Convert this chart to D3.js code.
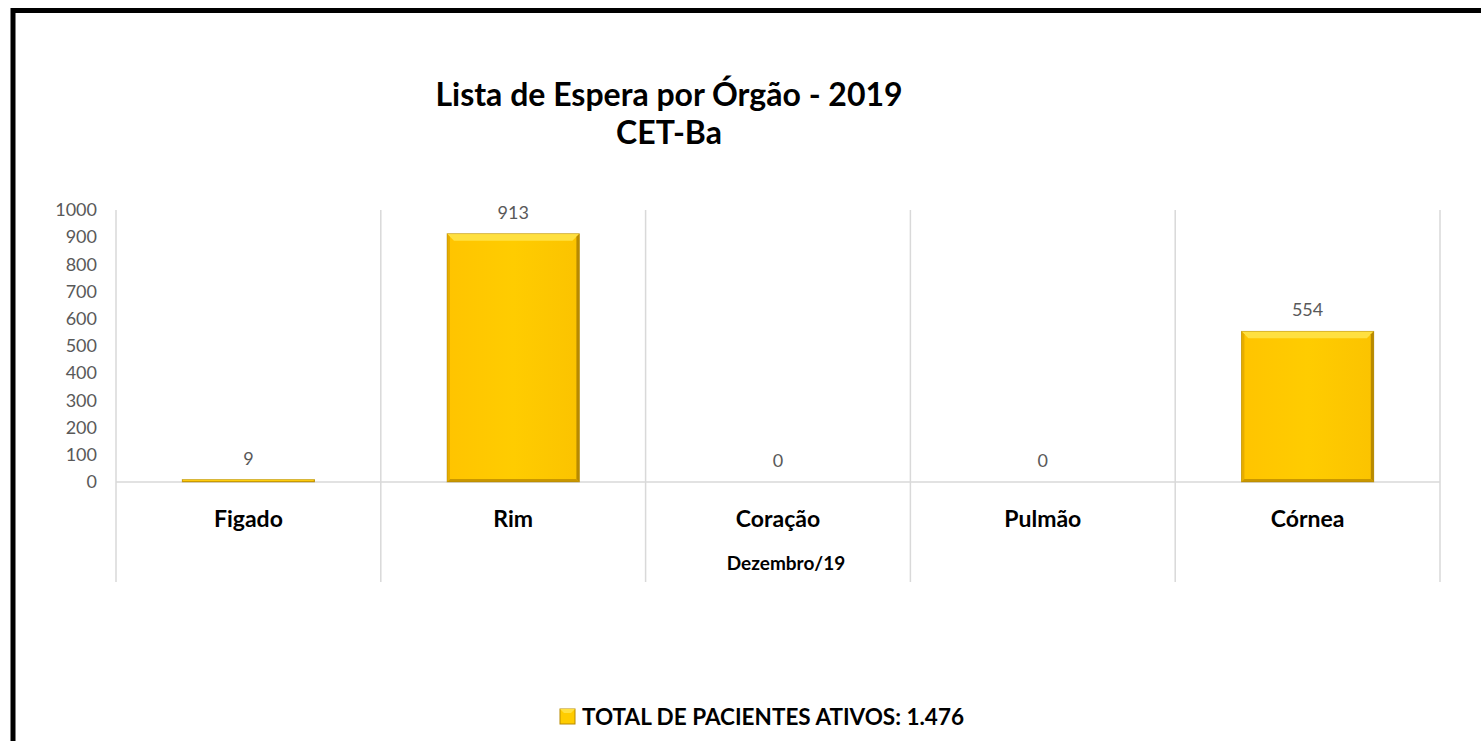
<!DOCTYPE html>
<html>
<head>
<meta charset="utf-8">
<script src="https://cdn.jsdelivr.net/npm/d3@7"></script>
<style>
  html, body { margin: 0; padding: 0; background: #fff; }
  svg { display: block; font-family: Lato, "Open Sans", sans-serif; }
</style>
</head>
<body>
<div id="viz"></div>
<script>
const width = 1481;
const height = 741;
const margin = {top: 210, right: 41, bottom: 259, left: 116};

// data
const categories = ['Figado', 'Rim', 'Coração', 'Pulmão', 'Córnea'];
const values = [9, 913, 0, 0, 554];
const yTicks = [0, 100, 200, 300, 400, 500, 600, 700, 800, 900, 1000];
const groupLabel = 'Dezembro/19';
const titleLines = ['Lista de Espera por Órgão - 2019', 'CET-Ba'];
const legendLabel = 'TOTAL DE PACIENTES ATIVOS: 1.476';

const data = categories.map((c, i) => ({category: c, value: values[i]}));

const svg = d3.select('#viz')
  .append('svg')
    .attr('width', width)
    .attr('height', height);

// outer black frame (runs off the right and bottom edge)
svg.append('rect')
  .attr('x', 13)
  .attr('y', 10.5)
  .attr('width', width + 20)
  .attr('height', height + 20)
  .attr('fill', 'none')
  .attr('stroke', '#000')
  .attr('stroke-width', 5);

// title
svg.append('text')
  .attr('x', 669)
  .attr('y', 106)
  .attr('text-anchor', 'middle')
  .style('font-size', '32px')
  .style('font-weight', 700)
  .attr('fill', '#000')
  .selectAll('tspan')
  .data(titleLines)
  .join('tspan')
    .attr('x', 669)
    .attr('dy', (d, i) => i === 0 ? 0 : 38)
    .text(d => d);

// scales
const scaleCell = d3.scaleBand()
  .domain(categories)
  .range([margin.left, width - margin.right])
  .padding(0);

const scaleY = d3.scaleLinear()
  .domain([0, 1000])
  .range([height - margin.bottom, margin.top]);

const baseY = scaleY(0);
const gridColor = '#d9d9d9';
const axisBottomY = 582;

// vertical category dividers
const dividers = categories.map(c => scaleCell(c)).concat([width - margin.right]);
svg.append('g')
  .selectAll('line')
  .data(dividers)
  .join('line')
    .attr('x1', d => d)
    .attr('x2', d => d)
    .attr('y1', scaleY(1000))
    .attr('y2', axisBottomY)
    .attr('stroke', gridColor)
    .attr('stroke-width', 1.5);

// baseline
svg.append('line')
  .attr('x1', margin.left)
  .attr('x2', width - margin.right)
  .attr('y1', baseY)
  .attr('y2', baseY)
  .attr('stroke', gridColor)
  .attr('stroke-width', 1.5);

// y axis
const axisLeft = d3.axisLeft(scaleY)
  .tickValues(yTicks)
  .tickFormat(d3.format('d'))
  .tickSize(0)
  .tickPadding(19);
const yAxis = svg.append('g')
  .attr('transform', `translate(${margin.left},0)`)
  .call(axisLeft);
yAxis.select('.domain').remove();
yAxis.selectAll('text')
  .style('font-family', 'Lato, sans-serif')
  .style('font-size', '18px')
  .attr('fill', '#595959');

// bars with bevel
const defs = svg.append('defs');
const grad = defs.append('linearGradient')
  .attr('id', 'barFill')
  .attr('x1', 0).attr('x2', 1).attr('y1', 0).attr('y2', 0);
grad.append('stop').attr('offset', '0%').attr('stop-color', '#ffc400');
grad.append('stop').attr('offset', '50%').attr('stop-color', '#ffcc00');
grad.append('stop').attr('offset', '100%').attr('stop-color', '#fbc300');

const barW = scaleCell.bandwidth() * 0.5;
const barX = d => scaleCell(d.category) + scaleCell.bandwidth() * 0.25;

const bars = svg.append('g')
  .selectAll('g')
  .data(data)
  .join('g');

bars.each(function(d) {
  const g = d3.select(this);
  const x0 = barX(d);
  const x1 = x0 + barW;
  const y0 = scaleY(d.value);
  const y1 = baseY;
  const h = y1 - y0;
  if (h <= 0) return;
  const b = Math.min(7, h / 3);
  const s = Math.min(3, h / 3);
  g.append('rect')
    .attr('x', x0).attr('y', y0)
    .attr('width', barW).attr('height', h)
    .attr('fill', 'url(#barFill)');
  // top bevel
  g.append('polygon')
    .attr('points', [[x0, y0], [x1, y0], [x1 - b, y0 + b], [x0 + b, y0 + b]].join(' '))
    .attr('fill', '#ffe040');
  // left edge
  g.append('polygon')
    .attr('points', [[x0, y0], [x0 + s, y0 + s], [x0 + s, y1 - s], [x0, y1]].join(' '))
    .attr('fill', '#e6ad00');
  // right edge
  g.append('polygon')
    .attr('points', [[x1, y0], [x1 - s, y0 + s], [x1 - s, y1 - s], [x1, y1]].join(' '))
    .attr('fill', '#b88a00');
  // bottom edge
  g.append('polygon')
    .attr('points', [[x0, y1], [x0 + s, y1 - s], [x1 - s, y1 - s], [x1, y1]].join(' '))
    .attr('fill', '#c99700');
  g.append('rect')
    .attr('x', x0).attr('y', y0)
    .attr('width', barW).attr('height', h)
    .attr('fill', 'none')
    .attr('stroke', '#a07800')
    .attr('stroke-opacity', 0.5)
    .attr('stroke-width', 0.8);
});

// value labels
svg.append('g')
  .selectAll('text')
  .data(data)
  .join('text')
    .attr('x', d => scaleCell(d.category) + scaleCell.bandwidth() / 2)
    .attr('y', d => scaleY(d.value) - 15)
    .attr('text-anchor', 'middle')
    .style('font-size', '18px')
    .attr('fill', '#595959')
    .text(d => d.value);

// category labels
svg.append('g')
  .selectAll('text')
  .data(categories)
  .join('text')
    .attr('x', d => scaleCell(d) + scaleCell.bandwidth() / 2)
    .attr('y', 527)
    .attr('text-anchor', 'middle')
    .style('font-size', '23px')
    .style('font-weight', 700)
    .attr('fill', '#000')
    .text(d => d);

// group label
svg.append('text')
  .attr('x', 786)
  .attr('y', 570)
  .attr('text-anchor', 'middle')
  .style('font-size', '19px')
  .style('font-weight', 700)
  .attr('fill', '#000')
  .text(groupLabel);

// legend
const legend = svg.append('g')
  .attr('transform', 'translate(560,717)');
legend.append('rect')
  .attr('x', 0).attr('y', -8)
  .attr('width', 15).attr('height', 15)
  .attr('fill', '#ffcc00')
  .attr('stroke', '#b88a00')
  .attr('stroke-width', 1);
legend.append('polygon')
  .attr('points', '0,-8 15,-8 11,-4 4,-4')
  .attr('fill', '#ffe040');
legend.append('text')
  .attr('x', 22)
  .attr('y', 8)
  .style('font-size', '22.5px')
  .style('font-weight', 700)
  .attr('fill', '#000')
  .text(legendLabel);
</script>
</body>
</html>
